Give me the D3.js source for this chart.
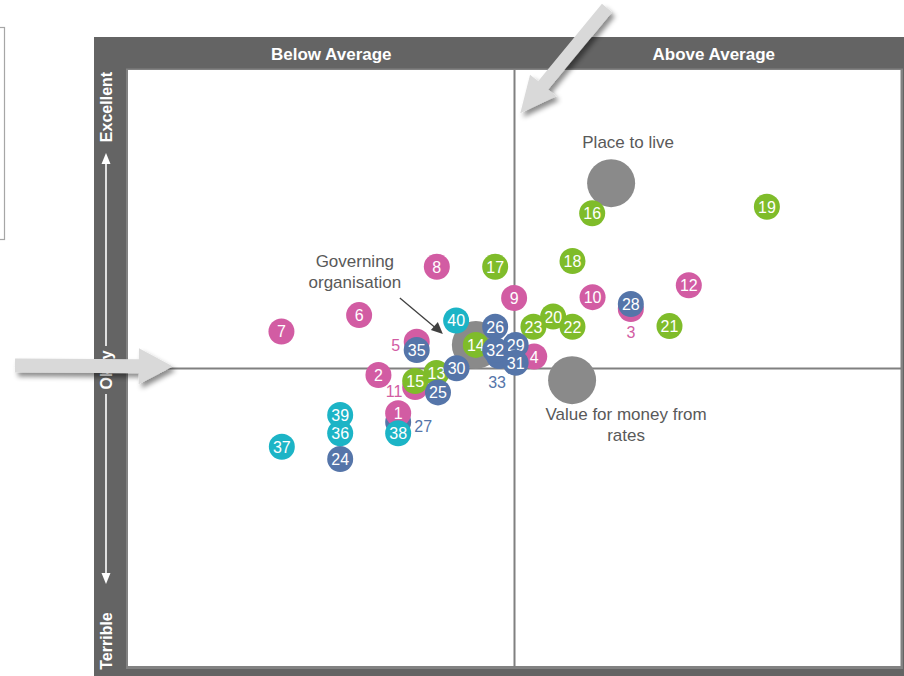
<!DOCTYPE html>
<html>
<head>
<meta charset="utf-8">
<script src="https://cdn.jsdelivr.net/npm/d3@7"></script>
<style>
  html, body { margin: 0; padding: 0; background: #fff; }
  svg { display: block; font-family: "Liberation Sans", Arial, sans-serif; }
</style>
</head>
<body>
<svg id="chart" width="904" height="676"></svg>
<script>
// ---------- DATA ----------
const headerLabels = ["Below Average", "Above Average"];
const sideLabels = ["Excellent", "Okay", "Terrible"];

const pinkIds = [1, 2, 3, 4, 5, 6, 7, 8, 9, 10, 11, 12];
const pinkX   = [-30.1, -35.2, 30.1, 5.1, -25.3, -40.2, -60.3, -20.1, -0.1, 20.2, -25.7, 45.1];
const pinkY   = [-15.0, -2.2, 19.9, 4.0, 9.0, 17.9, 12.4, 34.1, 23.6, 23.9, -6.2, 27.9];

const greenIds = [13, 14, 15, 16, 17, 18, 19, 20, 21, 22, 23];
const greenX   = [-20.2, -10.0, -25.7, 20.1, -5.0, 15.0, 65.3, 10.0, 40.1, 15.0, 4.9];
const greenY   = [-1.5, 7.9, -4.2, 52.0, 34.1, 36.0, 54.2, 17.4, 14.2, 14.0, 14.0];

const blueIds = [24, 25, 26, 27, 28, 29, 30, 31, 32, 33, 35];
const blueX   = [-45.1, -19.8, -5.0, -30.1, 30.1, 0.3, -15.0, 0.3, -5.0, -4.0, -25.3];
const blueY   = [-30.3, -8.0, 14.0, -17.9, 21.6, 7.9, 0.1, 1.9, 6.2, 4.2, 6.2];

const cyanIds = [36, 37, 38, 39, 40];
const cyanX   = [-45.1, -60.2, -30.1, -45.1, -15.1];
const cyanY   = [-21.7, -26.2, -21.7, -15.6, 16.1];

// points whose number is shown outside the (covered) bubble
const outsideIds = [3, 5, 11, 27, 33];
const outsidePos = ["below", "left", "left", "right", "below"];

const bubbleNames = ["Place to live", "Value for money from rates", "Governing organisation"];
const bubbleX = [25.0, 14.9, -10.0];
const bubbleY = [62.1, -3.9, 7.9];

// ---------- STYLE ----------
const colors = { pink: "#d25ca3", green: "#7fbc2a", blue: "#5575a9", cyan: "#1cb4c6" };
const R = 13, BIG_R = 24;

const svg = d3.select("#chart");
const x = d3.scaleLinear().domain([-100, 100]).range([128, 901]);
const y = d3.scaleLinear().domain([-100, 100]).range([667, 70]);

const defs = svg.append("defs");
const f = defs.append("filter").attr("id", "shadow").attr("x", "-30%").attr("y", "-30%").attr("width", "160%").attr("height", "160%");
f.append("feDropShadow").attr("dx", 3).attr("dy", 4).attr("stdDeviation", 2.5)
  .attr("flood-color", "#000").attr("flood-opacity", 0.45);

// cut-off legend box at the far left
svg.append("rect").attr("x", -10).attr("y", 27.5).attr("width", 14.5).attr("height", 212)
  .attr("fill", "none").attr("stroke", "#a6a6a6").attr("stroke-width", 1.2);

// frame
svg.append("rect").attr("x", 94).attr("y", 37).attr("width", 830).attr("height", 650).attr("fill", "#646464");
svg.append("rect").attr("x", 126).attr("y", 68.5).attr("width", 777).attr("height", 600.5).attr("fill", "#828282");
svg.append("rect").attr("x", x.range()[0]).attr("y", y.range()[1]).attr("width", x.range()[1] - x.range()[0] - 0.5)
  .attr("height", y.range()[0] - y.range()[1] - 1).attr("fill", "#fff");

// quadrant dividers
svg.append("line").attr("x1", x(0)).attr("x2", x(0)).attr("y1", y(100)).attr("y2", y(-100))
  .attr("stroke", "#808080").attr("stroke-width", 2);
svg.append("line").attr("x1", x(-100)).attr("x2", x(100)).attr("y1", y(0)).attr("y2", y(0))
  .attr("stroke", "#808080").attr("stroke-width", 2);

// header labels
svg.selectAll("text.hdr").data(headerLabels).join("text").attr("class", "hdr")
  .attr("x", (d, i) => i === 0 ? x(-50) + 10 : x(50) + 6)
  .attr("y", 54)
  .attr("text-anchor", "middle").attr("dominant-baseline", "central")
  .attr("fill", "#fff").attr("font-weight", "bold").attr("font-size", 17)
  .text(d => d);

// side labels
const sideY = [107, 370, 641];
svg.selectAll("text.side").data(sideLabels).join("text").attr("class", "side")
  .attr("transform", (d, i) => `translate(106,${sideY[i]}) rotate(-90)`)
  .attr("text-anchor", "middle").attr("dominant-baseline", "central")
  .attr("fill", "#fff").attr("font-weight", "bold").attr("font-size", 16)
  .text(d => d);
// side white arrows
svg.append("line").attr("x1", 106).attr("x2", 106).attr("y1", 346).attr("y2", 160)
  .attr("stroke", "#fff").attr("stroke-width", 1.6);
svg.append("path").attr("d", "M106,153 L101.5,164 L110.5,164 Z").attr("fill", "#fff");
svg.append("line").attr("x1", 106).attr("x2", 106).attr("y1", 394).attr("y2", 576)
  .attr("stroke", "#fff").attr("stroke-width", 1.6);
svg.append("path").attr("d", "M106,584 L101.5,573 L110.5,573 Z").attr("fill", "#fff");

// gray bubbles
const bubbles = bubbleNames.map((n, i) => ({ name: n, x: bubbleX[i], y: bubbleY[i] }));
svg.selectAll("circle.big").data(bubbles).join("circle").attr("class", "big")
  .attr("cx", d => x(d.x)).attr("cy", d => y(d.y)).attr("r", BIG_R).attr("fill", "#8a8a8a");

// bubble annotations
const annFont = 17, annColor = "#595959";
function ann(lines, cx, cy) {
  const t = svg.append("text").attr("text-anchor", "middle").attr("fill", annColor).attr("font-size", annFont);
  lines.forEach((l, i) => t.append("tspan").attr("x", cx).attr("y", cy + i * 21).attr("dominant-baseline", "central").text(l));
}
ann(["Place to live"], x(bubbles[0].x) + 17, y(bubbles[0].y) - 41);
ann(["Value for money from", "rates"], x(bubbles[1].x) + 54, y(bubbles[1].y) + 34);
ann(["Governing", "organisation"], x(bubbles[2].x) - 121, y(bubbles[2].y) - 83);
// small annotation arrow for Governing organisation
const gx = x(bubbles[2].x), gy = y(bubbles[2].y);
svg.append("line").attr("x1", gx - 76).attr("y1", gy - 47).attr("x2", gx - 39).attr("y2", gy - 16)
  .attr("stroke", "#404040").attr("stroke-width", 1.3);
svg.append("path").attr("d", `M${gx - 33},${gy - 11} L${gx - 45},${gy - 15} L${gx - 38},${gy - 23} Z`).attr("fill", "#404040");

// points
const points = [];
pinkIds.forEach((id, i) => points.push({ id, x: pinkX[i], y: pinkY[i], c: colors.pink }));
greenIds.forEach((id, i) => points.push({ id, x: greenX[i], y: greenY[i], c: colors.green }));
blueIds.forEach((id, i) => points.push({ id, x: blueX[i], y: blueY[i], c: colors.blue }));
cyanIds.forEach((id, i) => points.push({ id, x: cyanX[i], y: cyanY[i], c: colors.cyan }));
// covered points are drawn first (underneath)
const ordered = points.filter(p => outsideIds.includes(p.id)).concat(points.filter(p => !outsideIds.includes(p.id)));

const g = svg.selectAll("g.pt").data(ordered).join("g").attr("class", "pt")
  .attr("transform", d => `translate(${x(d.x)},${y(d.y)})`);
g.append("circle").attr("r", R).attr("fill", d => d.c);
g.filter(d => !outsideIds.includes(d.id)).append("text")
  .attr("text-anchor", "middle").attr("dominant-baseline", "central").attr("y", 0.5)
  .attr("fill", "#fff").attr("font-size", 16).text(d => d.id);

// outside labels (drawn on top)
const posOff = { below: [0, 23], left: [-21, 4], right: [25, 5] };
const outside = outsideIds.map((id, i) => ({ p: points.find(q => q.id === id), pos: outsidePos[i] }));
svg.selectAll("text.out").data(outside).join("text").attr("class", "out")
  .attr("x", d => x(d.p.x) + posOff[d.pos][0] - (d.p.id === 33 ? 2 : 0))
  .attr("y", d => y(d.p.y) + posOff[d.pos][1] + (d.p.id === 33 ? 4 : 0))
  .attr("text-anchor", "middle").attr("dominant-baseline", "central")
  .attr("fill", d => d.p.c).attr("font-size", 16).text(d => d.p.id);

// big light-gray pointer arrows
function arrowPath(x1, y1, x2, y2, sw, hw, hl) {
  const dx = x2 - x1, dy = y2 - y1, L = Math.hypot(dx, dy);
  const ux = dx / L, uy = dy / L, nx = -uy, ny = ux;
  const bx = x2 - ux * hl, by = y2 - uy * hl;
  const pts = [
    [x1 + nx * sw, y1 + ny * sw], [bx + nx * sw, by + ny * sw], [bx + nx * hw, by + ny * hw],
    [x2, y2], [bx - nx * hw, by - ny * hw], [bx - nx * sw, by - ny * sw], [x1 - nx * sw, y1 - ny * sw]
  ];
  return "M" + pts.map(p => p.join(",")).join("L") + "Z";
}
svg.append("path").attr("d", arrowPath(15, 365.5, x(-88.4), 366.5, 7, 18, 34))
  .attr("fill", "#d9d9d9").attr("filter", "url(#shadow)");
svg.append("path").attr("d", arrowPath(607, 8, x(1.5), y(85.5), 6.5, 17, 36))
  .attr("fill", "#d9d9d9").attr("filter", "url(#shadow)");
</script>
</body>
</html>
